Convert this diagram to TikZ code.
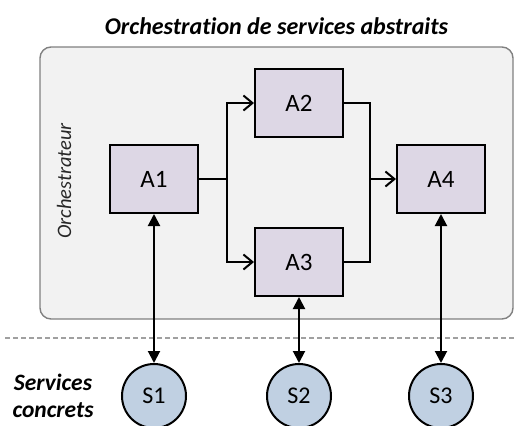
\documentclass[tikz,border=0pt]{standalone}
\usepackage{fontspec}
\setmainfont{Carlito}[Ligatures=NoCommon]
\usetikzlibrary{positioning, arrows.meta}
\definecolor{actfill}{RGB}{221,215,229}
\definecolor{srvfill}{RGB}{192,208,226}
\definecolor{orchfill}{RGB}{242,242,242}
\definecolor{orchline}{RGB}{128,128,128}
\definecolor{sepline}{RGB}{160,160,160}
\tikzset{x=1pt, y=-1pt, % one unit is one pixel of the drawing
	activity/.style={draw, line width=2pt, fill=actfill, minimum width=88pt, minimum height=68pt, font=\fontsize{25}{28}\selectfont}, % abstract services
	service/.style={circle, draw, line width=2pt, fill=srvfill, minimum size=64pt, inner sep=0pt, font=\fontsize{24}{28}\selectfont}, % concrete services
	flow/.style={line width=2pt, -{Straight Barb[length=9pt,width=15pt]}}, % control flow
	call/.style={line width=2pt, {Triangle[length=12pt,width=12pt]}-{Triangle[length=12pt,width=12pt]}}, % binding
%	node distance=55pt,
}
\begin{document}
\begin{tikzpicture}
	\useasboundingbox (0,0) rectangle (515,426);
	% The orchestrator frame
	\node[draw=orchline, line width=1.4pt, fill=orchfill, rounded corners=11pt, minimum width=473pt, minimum height=272pt] (Orch) at (276.5,183) {};
	\node[font=\bfseries\itshape\fontsize{24}{28}\selectfont] (Title) at (276.5,26) {Orchestration de services abstraits};
	\node[rotate=90, font=\itshape\fontsize{20.5}{24}\selectfont, text=black!85] (OrchLabel) at (64,181) {Orchestrateur};
	% Abstract activities
	\node[activity] (A1) at (154,179) {A1};
	\node[activity, right=55pt of A1, yshift=76pt] (A2) {A2};
	\node[activity, right=55pt of A1, yshift=-83pt] (A3) {A3};
	\node[activity, right=197pt of A1] (A4) {A4};
	%% split after A1
	\draw[line width=2pt] (A1.east) -- ++(28,0) coordinate (Split);
	\draw[flow] (Split) |- (A2);
	\draw[flow] (Split) |- (A3);
	%% join before A4
	\coordinate[left=26pt of A4.west] (Join);
	\draw[line width=2pt] (A2) -| (Join);
	\draw[line width=2pt] (A3) -| (Join);
	\draw[flow] (Join) -- (A4);
	% Separation line
	\coordinate (SepL) at (5,338);
	\coordinate (SepR) at (515,338);
	\draw[sepline, line width=1.4pt, dash pattern=on 5pt off 3pt] (SepL) -- (SepR);
	% Concrete services
	\node[service, below=149pt of A1] (S1) {S1};
	\node[service, below=66pt of A3] (S2) {S2};
	\node[service, below=149pt of A4] (S3) {S3};
	\node[font=\bfseries\itshape\fontsize{23.5}{27}\selectfont, align=center] (Concrete) at (53,396) {Services\\concrets};
	\draw[call] (A1) -- (S1);
	\draw[call] (A3) -- (S2);
	\draw[call] (A4) -- (S3);
\end{tikzpicture}
\end{document}
